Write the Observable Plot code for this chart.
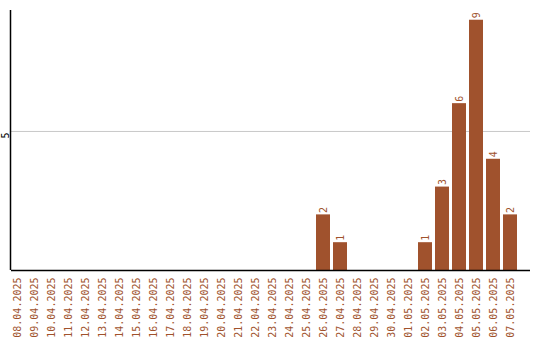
<!DOCTYPE html>
<html>
<head>
<meta charset="utf-8">
<script src="https://cdn.jsdelivr.net/npm/d3@7"></script>
<script src="https://cdn.jsdelivr.net/npm/@observablehq/plot@0.6"></script>
<style>
  html, body { margin: 0; padding: 0; background: #fff; }
  #chart svg { display: block; }
</style>
</head>
<body>
<div id="chart"></div>
<script>
// Daily counts, 08.04.2025 – 07.05.2025
const days = [
  "08.04.2025", "09.04.2025", "10.04.2025", "11.04.2025", "12.04.2025",
  "13.04.2025", "14.04.2025", "15.04.2025", "16.04.2025", "17.04.2025",
  "18.04.2025", "19.04.2025", "20.04.2025", "21.04.2025", "22.04.2025",
  "23.04.2025", "24.04.2025", "25.04.2025", "26.04.2025", "27.04.2025",
  "28.04.2025", "29.04.2025", "30.04.2025", "01.05.2025", "02.05.2025",
  "03.05.2025", "04.05.2025", "05.05.2025", "06.05.2025", "07.05.2025"
];
const counts = [
  0, 0, 0, 0, 0,
  0, 0, 0, 0, 0,
  0, 0, 0, 0, 0,
  0, 0, 0, 2, 1,
  0, 0, 0, 0, 1,
  3, 6, 9, 4, 2
];
const yTicks = [5];

const rows = days.map((day, i) => ({day, count: counts[i]}));
const labelled = rows.filter(d => d.count > 0);

const barColor = "#a0522d";
const font = "DejaVu Sans Mono, monospace";

const plot = Plot.plot({
  width: 540,
  height: 340,
  marginLeft: 11,
  marginRight: 10,
  marginTop: 10,
  marginBottom: 70,
  style: {fontFamily: font, fontSize: "10px", background: "#fff"},
  x: {type: "band", domain: days, range: [10, 517], paddingInner: 3 / 17, paddingOuter: 0, label: null},
  y: {domain: [0, 9.35], axis: null, label: null},
  marks: [
    Plot.gridY(yTicks, {stroke: "#c8c8c8", strokeOpacity: 1}),
    Plot.barY(rows, {x: "day", y: "count", fill: barColor}),
    Plot.text(labelled, {
      x: "day", y: "count", text: d => String(d.count),
      rotate: -90, textAnchor: "start", dy: -2,
      fill: barColor, fontSize: 10, fontFamily: font
    }),
    Plot.axisX({
      tickSize: 0, tickPadding: 7, tickRotate: -90,
      fill: barColor, fontSize: 10, fontFamily: font, label: null
    }),
    // the single y tick label sits just below its gridline
    Plot.text(yTicks, {
      y: d => d, text: d => String(d), frameAnchor: "left",
      rotate: -90, textAnchor: "end", dx: -6, dy: 1,
      fill: "#000", fontSize: 10, fontFamily: font
    }),
    Plot.ruleY([0], {stroke: "#000", strokeWidth: 1.5})
  ]
});

// left axis line from the baseline to the top of the y range
const ys = plot.scale("y");
d3.select(plot).append("line")
  .attr("x1", 10.5).attr("x2", 10.5)
  .attr("y1", ys.apply(0)).attr("y2", ys.apply(ys.domain[1]))
  .attr("stroke", "#000").attr("stroke-width", 1.5);

document.getElementById("chart").appendChild(plot);
</script>
</body>
</html>
